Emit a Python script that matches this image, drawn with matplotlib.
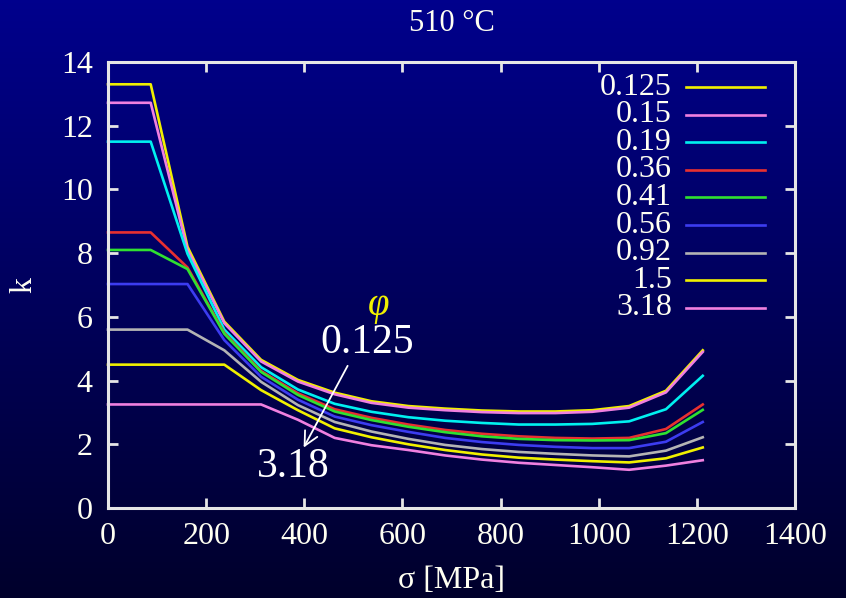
import numpy as np
import matplotlib
matplotlib.use("Agg")
import matplotlib.pyplot as plt

# stress points [MPa]
sigma = [0, 87, 162, 237, 312, 387, 462, 537, 612, 687, 762, 837, 912, 987, 1062, 1137, 1212]

phi_labels = ['0.125', '0.15', '0.19', '0.36', '0.41', '0.56', '0.92', '1.5', '3.18']

k_0125 = [13.3, 13.3, 8.2, 5.85, 4.65, 4.02, 3.62, 3.35, 3.2, 3.12, 3.06, 3.03, 3.03, 3.07, 3.2, 3.68, 4.95]
k_015 = [12.72, 12.72, 8.1, 5.8, 4.6, 3.97, 3.57, 3.3, 3.15, 3.07, 3.01, 2.98, 2.98, 3.02, 3.15, 3.63, 4.9]
k_019 = [11.5, 11.5, 7.98, 5.6, 4.42, 3.72, 3.27, 3.02, 2.85, 2.74, 2.67, 2.62, 2.62, 2.64, 2.72, 3.1, 4.15]
k_036 = [8.65, 8.65, 7.55, 5.5, 4.3, 3.6, 3.1, 2.83, 2.62, 2.45, 2.33, 2.25, 2.2, 2.18, 2.2, 2.48, 3.25]
k_041 = [8.1, 8.1, 7.5, 5.47, 4.27, 3.55, 3.03, 2.76, 2.55, 2.38, 2.25, 2.17, 2.13, 2.12, 2.13, 2.35, 3.08]
k_056 = [7.03, 7.03, 7.03, 5.27, 4.12, 3.4, 2.87, 2.6, 2.39, 2.2, 2.07, 1.98, 1.92, 1.88, 1.88, 2.08, 2.7]
k_092 = [5.6, 5.6, 5.6, 4.95, 3.96, 3.23, 2.7, 2.4, 2.17, 1.98, 1.85, 1.76, 1.7, 1.65, 1.62, 1.8, 2.22]
k_15 = [4.5, 4.5, 4.5, 4.5, 3.7, 3.07, 2.5, 2.22, 2.0, 1.82, 1.68, 1.58, 1.52, 1.47, 1.43, 1.56, 1.9]
k_318 = [3.25, 3.25, 3.25, 3.25, 3.25, 2.77, 2.2, 1.97, 1.82, 1.65, 1.52, 1.42, 1.35, 1.28, 1.2, 1.33, 1.5]

series = [k_0125, k_015, k_019, k_036, k_041, k_056, k_092, k_15, k_318]
colors = ['#f0f000', '#f080e0', '#00f0f0', '#e83030', '#30e030', '#3c3cf0',
          '#b4b4b4', '#f0f000', '#f080e0']

plt.rcParams['font.family'] = ['Liberation Serif', 'DejaVu Sans']
txt = '#fffff2'

fig = plt.figure(figsize=(8.46, 5.98), dpi=100)

# background gradient
bg = fig.add_axes([0, 0, 1, 1], zorder=-1)
grad = np.linspace(0, 1, 256).reshape(-1, 1)
top = np.array([0.0, 0.0, 0.55])
bot = np.array([0.0, 0.0, 0.17])
img = top + (bot - top) * grad[:, :, None]
bg.imshow(img, aspect='auto', extent=[0, 1, 0, 1])
bg.axis('off')

ax = fig.add_axes([108 / 846, 90 / 598, 687 / 846, 446 / 598])
ax.set_facecolor('none')

for ks, c in zip(series, colors):
    ax.plot(sigma, ks, color=c, lw=1.9, clip_on=False)

ax.set_xlim(0, 1400)
ax.set_ylim(0, 14)
ax.set_xticks(range(0, 1401, 200))
ax.set_yticks(range(0, 15, 2))
for s in ax.spines.values():
    s.set_color('#e6e6e6')
    s.set_linewidth(2.2)
ax.tick_params(direction='in', length=7, width=2, color='#e6e6e6',
               top=True, right=True, labelsize=23, labelcolor=txt)
ax.tick_params(axis='x', pad=10)
ax.tick_params(axis='y', pad=11)

ax.set_xlabel('σ [MPa]', fontsize=23, color=txt, labelpad=11)
ax.set_ylabel('k', fontsize=23, color=txt, labelpad=16)
ax.set_title('510 °C', fontsize=22, color=txt, pad=22)

# legend: labels right-aligned, line sample to the right
for j, (lab, c) in enumerate(zip(phi_labels, colors)):
    yy = 0.943 - j * 0.0617
    ax.text(0.821, yy, lab, transform=ax.transAxes, ha='right', va='center',
            fontsize=23, color=txt)
    ax.plot([0.842, 0.956], [yy, yy], transform=ax.transAxes, color=c, lw=1.9)

# annotation
ax.text(552, 6.37, 'φ', color='#f0f000', fontsize=28, style='italic',
        ha='center', va='center')
ax.text(529, 5.18, '0.125', color='white', fontsize=30, ha='center', va='center')
ax.text(378, 1.29, '3.18', color='white', fontsize=30, ha='center', va='center')
ax.annotate('', xy=(396, 1.82), xytext=(491, 4.54),
            arrowprops=dict(arrowstyle='->', color='white', lw=1.3,
                            mutation_scale=25))

fig.savefig('out.png', dpi=100)
